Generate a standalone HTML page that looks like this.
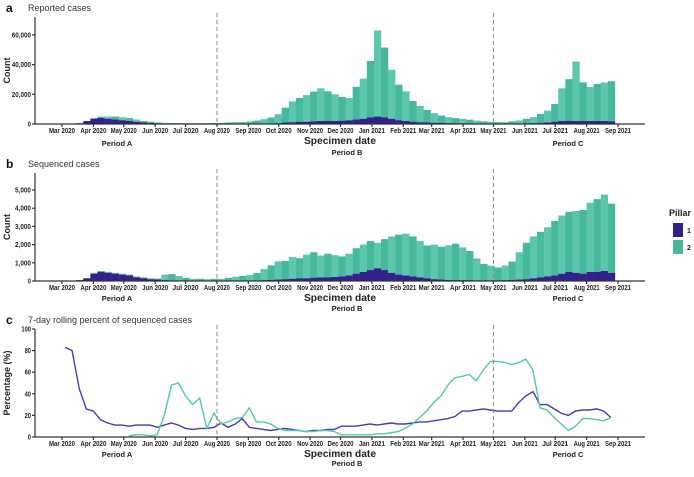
<!DOCTYPE html>
<html><head><meta charset="utf-8"><style>
body{margin:0;background:#fff;}
svg{font-family:"Liberation Sans",sans-serif;}
.tk{font-size:7px;font-weight:bold;fill:#222;}
.pl{font-size:9px;fill:#333;}
.ax{stroke:#333;stroke-width:1.2;}
</style></head><body>
<svg id="c" width="694" height="472" viewBox="0 0 694 472" xmlns="http://www.w3.org/2000/svg"></svg>
<script>
const monthLabels=["Mar 2020","Apr 2020","May 2020","Jun 2020","Jul 2020","Aug 2020","Sep 2020","Oct 2020","Nov 2020","Dec 2020","Jan 2021","Feb 2021","Mar 2021","Apr 2021","May 2021","Jun 2021","Jul 2021","Aug 2021","Sep 2021"];
const monthDays=[0,31,61,92,122,153,184,214,245,275,306,337,365,396,426,457,487,518,549];
const periodLines=[153,426];
const reportedP1=[0,100,500,2000,3500,4000,3500,3000,2500,2000,1500,1000,800,500,400,300,300,200,200,200,200,200,200,200,200,200,300,300,300,400,600,1000,1200,1500,1500,1800,2000,2000,2000,2200,2500,3000,3500,4500,5000,4500,3500,2500,2000,1500,1200,1000,800,700,600,500,500,400,300,300,300,300,300,300,400,500,600,800,1000,1500,2000,2200,2000,2000,2000,2000,2000,1800];
const reportedP2=[0,0,0,0,500,1000,1500,2000,2000,2000,1500,1000,800,500,400,300,300,300,300,300,400,500,600,800,1000,1000,1500,2000,3000,4000,6000,10000,14000,16000,18000,20000,22000,20000,18000,16000,15000,22000,27000,38000,58000,47000,33000,24000,20000,14000,11000,8500,6500,5000,4000,3500,3000,2500,2000,1500,1200,1000,1000,1500,2000,3000,4000,6000,8000,12000,22000,28000,40000,26000,23000,25000,26000,27000,22000];
const seqP1=[0,10,50,150,400,500,450,400,350,300,200,150,100,80,50,30,20,20,20,20,20,20,20,20,30,30,30,40,50,60,80,100,120,150,150,180,200,200,220,250,300,400,500,600,700,600,450,350,300,250,200,150,100,80,60,50,50,50,40,40,40,40,50,60,80,100,150,200,250,300,400,500,450,400,500,500,550,450];
const seqP2=[0,0,0,0,50,50,50,50,50,50,50,50,50,50,300,350,250,150,100,100,80,100,100,150,200,250,300,400,600,800,1000,1000,1200,1100,1300,1400,1200,1300,1200,1100,1200,1400,1500,1600,1400,1700,2000,2200,2300,2200,2000,1800,1900,1800,1900,2000,1800,1600,1200,900,800,700,800,1000,1500,2000,2300,2500,2700,3000,3200,3300,3400,3500,3800,4000,4200,3800];
const pctP1=[83,80,45,26,24,16,13,11,11,10,11,11,11,9,11,13,11,8,7,8,8,9,13,9,12,17,9,8,7,6,7,8,7,6,5,6,6,7,7,10,10,10,11,12,11,12,13,12,12,13,14,14,15,16,17,19,24,24,25,26,25,24,24,24,32,38,42,30,30,26,22,20,24,25,25,26,24,18];
const pctP2=[null,null,null,null,null,null,null,null,null,1,2,2,1,2,20,48,50,38,30,36,8,22,12,14,17,18,27,14,14,12,8,6,6,6,5,5,6,6,5,2,2,2,2,2,3,3,4,5,8,12,18,24,32,38,48,55,56,58,52,62,70,70,69,67,69,72,62,27,25,18,12,6,10,17,17,16,15,18];
const aTicks=[0,20000,40000,60000];
const bTicks=[0,1000,2000,3000,4000,5000];
const cTicks=[0,20,40,60,80,100];
const NS="http://www.w3.org/2000/svg";
const svg=document.getElementById('c');
const C1="#33208c",C2="#45b89d",L1="#4b3aae",L2="#52c9af";
function el(t,a,p){const e=document.createElementNS(NS,t);for(const k in a)e.setAttribute(k,a[k]);(p||svg).appendChild(e);return e;}
function x(d){return 62+d*556/549;}
const panels=[
 {key:'a',title:'Reported cases',base:124,top:17,max:72000,perY:29.7/20000,ticks:aTicks,fmt:v=>v.toLocaleString('en-US'),p1:reportedP1,p2:reportedP2,ylab:'Count',tickY:133,spec:144,pa:146,pb:155,ty:8},
 {key:'b',title:'Sequenced cases',base:281,top:173,max:5900,perY:18.2/1000,ticks:bTicks,fmt:v=>v.toLocaleString('en-US'),p1:seqP1,p2:seqP2,ylab:'Count',tickY:290,spec:301,pa:301,pb:311,ty:164},
 {key:'c',title:'7-day rolling percent of sequenced cases',base:437,top:329,max:100,perY:1.08,ticks:cTicks,fmt:v=>String(v),ylab:'Percentage (%)',tickY:446,spec:457,pa:457,pb:466,ty:320}
];
panels.forEach(P=>{
 const g=el('g',{});
 
 
 const y=v=>P.base-v*P.perY;
 const lt=el('text',{x:6,y:P.ty+4,'font-size':12,'font-weight':'bold',fill:'#111'},g);lt.textContent=P.key;
 
 const tt=el('text',{x:28,y:P.ty+3,class:'pl'},g);tt.textContent=P.title;
 
 if(P.p1){
  const bw=7*556/549;
  for(let w=0;w<P.p1.length;w++){
   const x0=x(w*7);
   const h1=P.p1[w]*P.perY,h2=(P.p2[w]||0)*P.perY;
   if(h2>0){const r=el('rect',{x:x0,y:P.base-h1-h2,width:bw+0.2,height:h2,fill:(w%2?C2:"#5cc7ad")},g);
    }
   if(h1>0){const r=el('rect',{x:x0,y:P.base-h1,width:bw+0.2,height:h1,fill:C1},g);
    }
  }
 } else {
  [[pctP1,L1,'line-pillar1'],[pctP2,L2,'line-pillar2']].forEach(([arr,col,nm])=>{
   let d='';arr.forEach((v,i)=>{if(v==null)return;d+=(d?'L':'M')+x(i*7+3).toFixed(1)+','+y(v).toFixed(1);});
   const p=el('path',{d:d,fill:'none',stroke:col,'stroke-width':1.4},g);
   
  });
 }
 periodLines.forEach(d=>{const l=el('line',{x1:x(d),x2:x(d),y1:P.top-4,y2:P.base,stroke:'#888','stroke-dasharray':'4,3','stroke-width':1},g);
  });
 const ya=el('line',{x1:35,x2:35,y1:P.top,y2:P.base,class:'ax'},g);
 
 const xa=el('line',{x1:35,x2:645,y1:P.base,y2:P.base,class:'ax'},g);
 
 P.ticks.forEach(v=>{el('line',{x1:32,x2:35,y1:y(v),y2:y(v),class:'ax'},g);
  const s=P.fmt(v);
  const t=el('text',{x:31,y:y(v)+2.5,'text-anchor':'end',class:'tk',textLength:(s.length*3.2).toFixed(1),lengthAdjust:'spacingAndGlyphs'},g);t.textContent=s;
  });
 monthDays.forEach((d,i)=>{el('line',{x1:x(d),x2:x(d),y1:P.base,y2:P.base+3,class:'ax'},g);
  const t=el('text',{x:x(d),y:P.tickY,'text-anchor':'middle',class:'tk',textLength:26,lengthAdjust:'spacingAndGlyphs'},g);t.textContent=monthLabels[i];
  });
 const yl=el('text',{x:0,y:0,transform:`translate(10,${(P.top+P.base)/2}) rotate(-90)`,'text-anchor':'middle','font-size':9,'font-weight':'bold',fill:'#222'},g);yl.textContent=P.ylab;
 
 const sd=el('text',{x:340,y:P.spec,'text-anchor':'middle','font-size':10,'font-weight':'bold',fill:'#222',textLength:72,lengthAdjust:'spacingAndGlyphs'},g);sd.textContent='Specimen date';
 
 [['Period A',117,P.pa],['Period B',347,P.pb],['Period C',568,P.pa]].forEach(([s,px,py])=>{
  const t=el('text',{x:px,y:py,'text-anchor':'middle','font-size':7.5,'font-weight':'bold',fill:'#222'},g);t.textContent=s;
  });
});
const lg=el('g',{});


const lt=el('text',{x:669,y:216,'font-size':9,'font-weight':'bold',fill:'#222'},lg);lt.textContent='Pillar';
[[C1,'1',223],[C2,'2',240]].forEach(([c,s,yy])=>{
 const r=el('rect',{x:673,y:yy,width:10,height:14,fill:c},lg);
 
 const t=el('text',{x:687,y:yy+10,'font-size':7,'font-weight':'bold',fill:'#222'},lg);t.textContent=s;
 
});
</script>
</body></html>
